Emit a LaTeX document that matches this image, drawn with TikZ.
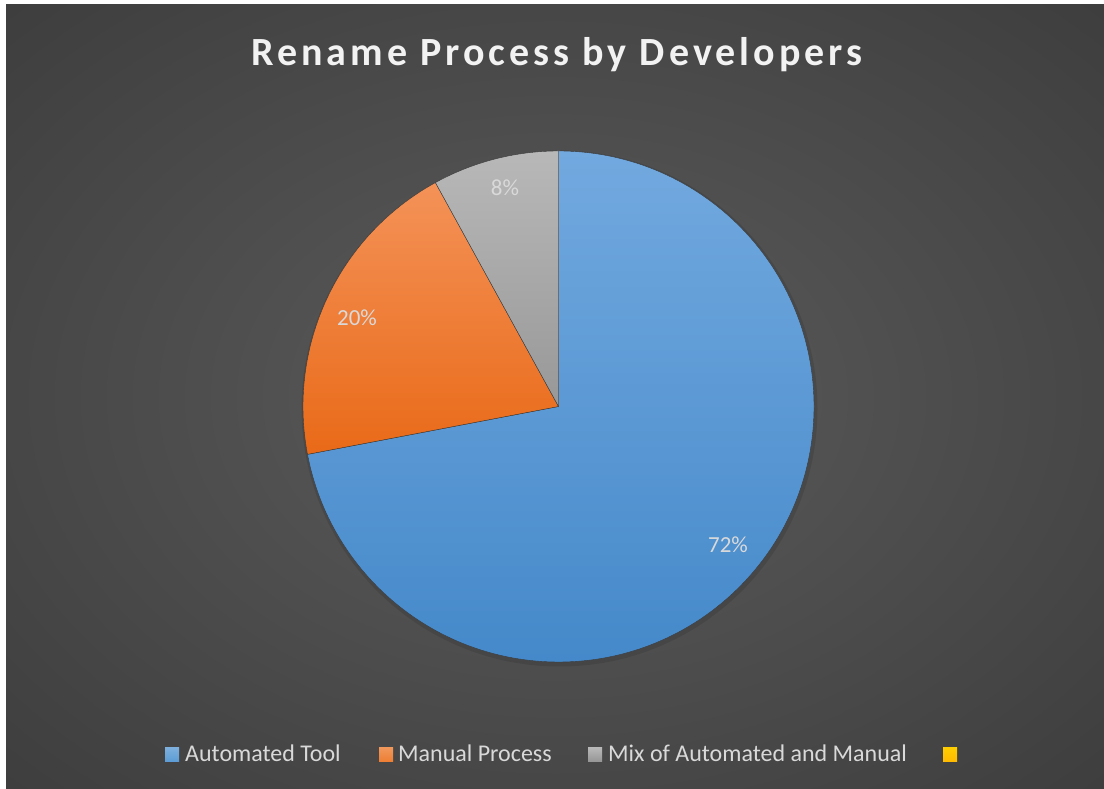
\documentclass[tikz,border=0pt]{standalone}
\usepackage{fontspec}
\setmainfont{Carlito}
\newfontfamily\titlefont[LetterSpace=10]{Carlito}
\usetikzlibrary{shadings}
\definecolor{bgin}{HTML}{555555}
\definecolor{bgout}{HTML}{242424}
\definecolor{blueT}{HTML}{72A9DF}
\definecolor{blueB}{HTML}{4589CA}
\definecolor{orT}{HTML}{F49258}
\definecolor{orB}{HTML}{E96A18}
\definecolor{grT}{HTML}{B8B8B8}
\definecolor{grB}{HTML}{989898}
\definecolor{legblue}{HTML}{5B9BD5}
\definecolor{legor}{HTML}{ED7D31}
\definecolor{leggr}{HTML}{A5A5A5}
\definecolor{legyel}{HTML}{FFC000}
\definecolor{txt}{HTML}{D9D9D9}
\definecolor{ttl}{HTML}{F2F2F2}
\definecolor{edge}{HTML}{3A3A3A}
\pgfdeclareradialshading{bgshade}{\pgfpoint{0bp}{0bp}}{color(0bp)=(bgin); color(8bp)=(bgin); color(66bp)=(bgout)}
\tikzset{
  slice/.style={draw=edge, line width=0.4pt},
  pct/.style={font=\fontsize{23}{26}\selectfont, text=txt, inner sep=0pt, anchor=base},
  legtext/.style={font=\fontsize{24}{28}\selectfont, text=txt, inner sep=0pt, anchor=base west},
}
\begin{document}
\begin{tikzpicture}[x=1pt,y=1pt]
\useasboundingbox (0,0) rectangle (1104,789);
\fill[white] (0,0) rectangle (1104,789);
\shade[shading=bgshade] (6,0) rectangle (1104,784);
% pie
\coordinate (c) at (558.5,382.5);
\fill[black, opacity=0.10] (559.5,380.5) circle (258);
\shade[slice, top color=blueT, bottom color=blueB] (c) -- ++(90:255.5) arc[start angle=90, end angle=-169.2, radius=255.5] -- cycle;
\shade[slice, top color=orT, bottom color=orB] (c) -- ++(190.8:255.5) arc[start angle=190.8, end angle=118.8, radius=255.5] -- cycle;
\shade[slice, top color=grT, bottom color=grB] (c) -- ++(118.8:255.5) arc[start angle=118.8, end angle=90, radius=255.5] -- cycle;
% labels
\node[pct] (l72) at (728,236) {72\%};
\node[pct] (l20) at (357,463) {20\%};
\node[pct] (l8) at (505,593) {8\%};
% title
\node[inner sep=0pt, anchor=base, text=ttl, font=\titlefont\bfseries\fontsize{40}{46}\selectfont] (title) at (557,723) {Rename Process by Developers};
% legend
\shade[top color=legblue!80!white, bottom color=legblue] (165,27) rectangle (179,41);
\node[legtext] (la) at (185,27) {Automated Tool};
\shade[top color=legor!80!white, bottom color=legor] (379,27) rectangle (393,41);
\node[legtext] (lb) at (398,27) {Manual Process};
\shade[top color=leggr!80!white, bottom color=leggr!90!black] (588,27) rectangle (602,41);
\node[legtext] (lc) at (608,27) {Mix of Automated and Manual};
\shade[top color=legyel!80!yellow, bottom color=legyel!90!orange] (943,27) rectangle (957,41);
\end{tikzpicture}
\end{document}
